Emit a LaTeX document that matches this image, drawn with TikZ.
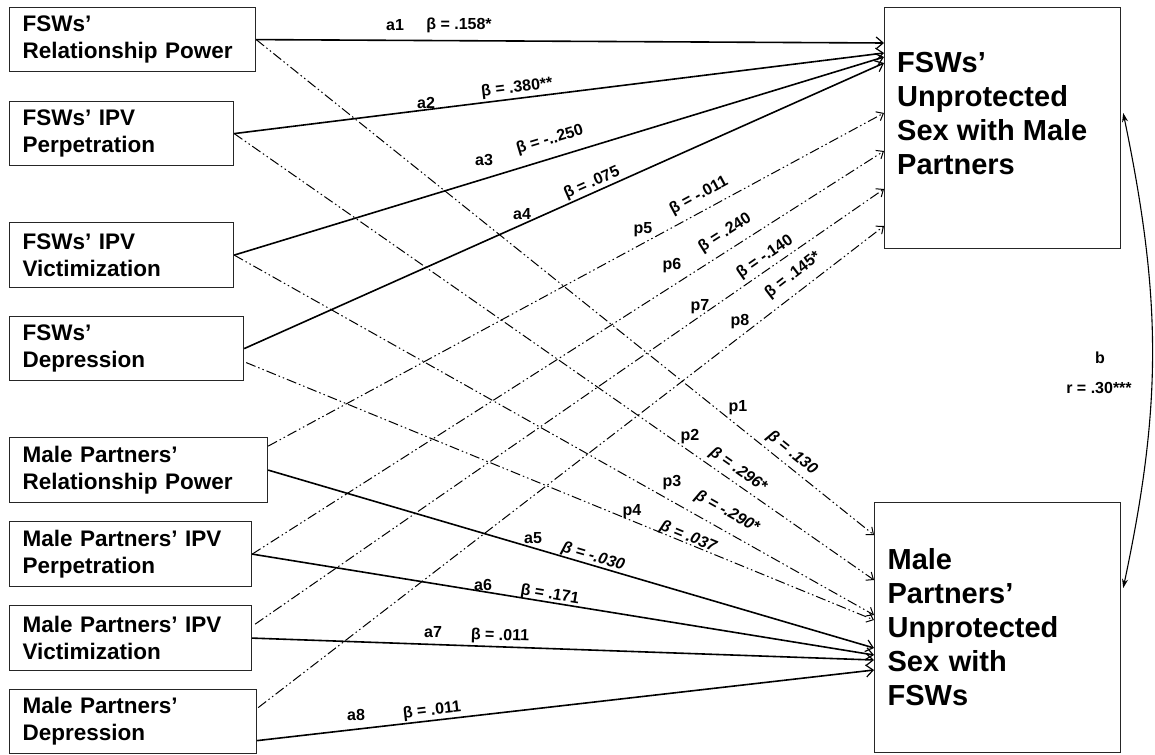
\documentclass[tikz,border=0pt]{standalone}
\usepackage{fontspec}
\setmainfont{Liberation Sans}
\usetikzlibrary{arrows.meta,calc}
\begin{document}
\begin{tikzpicture}[x=1pt,y=-1pt,
  box/.style={draw=black!85, line width=1.2pt, anchor=north west, inner xsep=13pt, inner ysep=0pt, align=left, font=\bfseries\fontsize{22.5}{27}\selectfont},
  bigtxt/.style={font=\bfseries\fontsize{29}{34}\selectfont},
  sol/.style={line width=1.6pt, -{Straight Barb[length=7pt,width=12pt,line width=1.2pt]}},
  dsh/.style={line width=1pt, dash pattern=on 10pt off 3pt on 1.5pt off 3pt on 1.5pt off 3pt, -{Straight Barb[length=6pt,width=10pt,line width=1pt]}},
  lab/.style={font=\bfseries\fontsize{16}{19}\selectfont, inner sep=0pt},
  ilab/.style={font=\bfseries\itshape\fontsize{16}{19}\selectfont, inner sep=0pt}]
\fill[white] (0,0) rectangle (1155,754);
\useasboundingbox (0,0) rectangle (1155,754);
% left boxes
\node[box, text width=220pt, minimum height=64pt] (b1) at (9,7) {FSWs’\\Relationship Power};
\node[box, text width=198pt, minimum height=64pt] (b2) at (9,101) {FSWs’ IPV\\Perpetration};
\node[box, text width=198pt, minimum height=65pt] (b3) at (9,222) {FSWs’ IPV\\Victimization};
\node[box, text width=208pt, minimum height=64pt] (b4) at (9,316) {FSWs’\\Depression};
\node[box, text width=232pt, minimum height=65pt] (b5) at (9,437) {Male Partners’\\Relationship Power};
\node[box, text width=216pt, minimum height=65pt] (b6) at (9,521) {Male Partners’ IPV\\Perpetration};
\node[box, text width=216pt, minimum height=65pt] (b7) at (9,605) {Male Partners’ IPV\\Victimization};
\node[box, text width=221pt, minimum height=64pt] (b8) at (9,689) {Male Partners’\\Depression};
% right boxes
\node[draw=black!85, line width=1.2pt, anchor=north west, minimum width=236pt, minimum height=241pt, inner sep=0pt] (fsu) at (884,7) {};
\node[bigtxt, anchor=west, align=left, inner sep=0pt] (fsut) at (897,114) {FSWs’\\Unprotected\\Sex with Male\\Partners};
\node[box, bigtxt, text width=220pt, minimum height=250pt] (mpu) at (874,502) {Male\\Partners’\\Unprotected\\Sex with\\FSWs};
% solid paths to FSWs outcome
\draw[sol] (b1.east) -- ($(fsu.north west)+(0,36)$);
\draw[sol] (b2.east) -- ($(fsu.north west)+(0,46)$);
\draw[sol] (b3.east) -- ($(fsu.north west)+(0,50)$);
\draw[sol] (b4.east) -- ($(fsu.north west)+(0,56)$);
% partner paths to FSWs outcome
\draw[dsh] ($(b5.east)+(0,-24)$) -- ($(fsu.north west)+(0,106)$);
\draw[dsh] (b6.east) -- ($(fsu.north west)+(0,144)$);
\draw[dsh] ($(b7.east)+(3,-14)$) -- ($(fsu.north west)+(0,182)$);
\draw[dsh] ($(b8.east)+(1,-14)$) -- ($(fsu.north west)+(0,219)$);
% FSW paths to male outcome
\draw[dsh] (b1.east) -- ($(mpu.north west)+(0,33)$);
\draw[dsh] (b2.east) -- ($(mpu.north west)+(0,78)$);
\draw[dsh] (b3.east) -- ($(mpu.north west)+(0,113)$);
\draw[dsh] ($(b4.east)+(2,14)$) -- ($(mpu.north west)+(0,118)$);
% solid paths to male outcome
\draw[sol] (b5.east) -- ($(mpu.north west)+(0,146)$);
\draw[sol] (b6.east) -- ($(mpu.north west)+(0,153)$);
\draw[sol] (b7.east) -- ($(mpu.north west)+(0,158)$);
\draw[sol] ($(b8.east)+(0,19)$) -- ($(mpu.north west)+(0,168)$);
% correlation
\draw[line width=1.1pt, {Stealth[length=9pt,width=6pt]}-{Stealth[length=9pt,width=6pt]}]
  ($(fsu.north east)+(2,106)$) .. controls (1162,300) and (1162,405) .. ($(mpu.north east)+(2,86)$);
\node[lab] (lb) at (1100,358) {b};
\node[lab] (lr) at (1099,388) {r = .30***};
% labels
\node[lab] (la1) at (395,25) {a1};
\node[lab] (lb1) at (459,25) {β = .158*};
\node[lab] (la2) at (426,103) {a2};
\node[lab, rotate=6.9] (lb2) at (517,88) {β = .380**};
\node[lab] (la3) at (484,160) {a3};
\node[lab, rotate=16.7] (lb3) at (550,140) {β = -..250};
\node[lab] (la4) at (522,214) {a4};
\node[lab, rotate=23.9] (lb4) at (592,183) {β = .075};
\node[lab] (lp5) at (643,230) {p5};
\node[lab, rotate=28.3] (lbp5) at (699,196) {β = -.011};
\node[lab] (lp6) at (672,266) {p6};
\node[lab, rotate=32.5] (lbp6) at (725,233) {β = .240};
\node[lab] (lp7) at (700,307) {p7};
\node[lab, rotate=34.6] (lbp7) at (765,257) {β = -.140};
\node[lab] (lp8) at (740,322) {p8};
\node[lab, rotate=37.5] (lbp8) at (793,275) {β = .145*};
\node[lab] (lp1) at (738,408) {p1};
\node[ilab, rotate=-38.8] (lbp1) at (792,453) {β = .130};
\node[lab] (lp2) at (690,437) {p2};
\node[ilab, rotate=-34.9] (lbp2) at (738,470) {β = .296*};
\node[lab] (lp3) at (672,483) {p3};
\node[ilab, rotate=-29.4] (lbp3) at (727,512) {β = -.290*};
\node[lab] (lp4) at (632,512) {p4};
\node[ilab, rotate=-22.3] (lbp4) at (688,537) {β = .037};
\node[lab] (la5) at (533,538) {a5};
\node[ilab, rotate=-16.5] (lb5) at (593,557) {β = -.030};
\node[lab] (la6) at (483,585) {a6};
\node[lab, rotate=-9.3] (lb6) at (550,595) {β = .171};
\node[lab] (la7) at (433,632) {a7};
\node[lab, rotate=-2] (lb7) at (500,636) {β = .011};
\node[lab] (la8) at (356,715) {a8};
\node[lab, rotate=6.5] (lb8) at (432,711) {β = .011};
\end{tikzpicture}
\end{document}
